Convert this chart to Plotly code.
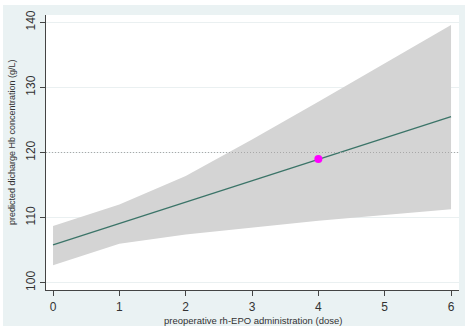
import plotly.graph_objects as go

# Predicted discharge Hb by number of preoperative rh-EPO doses, with 95% CI
doses = [0, 1, 2, 3, 4, 5, 6]
predicted = [105.8, 109.1, 112.4, 115.6, 118.9, 122.2, 125.5]
ci_lower = [102.7, 106.0, 107.4, 108.5, 109.5, 110.4, 111.3]
ci_upper = [108.7, 112.0, 116.4, 122.0, 127.8, 133.7, 139.6]

highlight_dose = [4]
highlight_hb = [119.0]

reference_hb = 120
y_ticks = [100, 110, 120, 130, 140]

outer_bg = "#eaf2f3"
band_color = "#d4d4d4"
line_color = "#3b7468"
text_color = "#333333"
font_family = "Liberation Sans, Arial, sans-serif"

fig = go.Figure()

fig.add_trace(go.Scatter(
    x=doses, y=ci_lower, mode="lines",
    line=dict(width=0, color=band_color), showlegend=False, hoverinfo="skip",
))
fig.add_trace(go.Scatter(
    x=doses, y=ci_upper, mode="lines", fill="tonexty", fillcolor=band_color,
    line=dict(width=0, color=band_color), showlegend=False, hoverinfo="skip",
))
fig.add_trace(go.Scatter(
    x=doses, y=predicted, mode="lines",
    line=dict(width=1.3, color=line_color), showlegend=False,
))
fig.add_trace(go.Scatter(
    x=highlight_dose, y=highlight_hb, mode="markers",
    marker=dict(size=8, color="#ff00ff"), showlegend=False,
))

# Dotted reference line at 120 g/L
fig.add_shape(type="line", xref="paper", x0=0, x1=1, yref="y",
              y0=reference_hb, y1=reference_hb,
              line=dict(color="#a8a8a8", width=1, dash="1px,2px"), layer="above")

# Thin white page border around the light graph region
L, R, T, B = 46, 11, 15, 44
W, H = 470, 334
pw, ph = W - L - R, H - T - B
def px(x):
    return (x - L) / pw
def py(y):
    return (H - B - y) / ph
for x0, y0, x1, y1 in [(0, 0, 3, H), (465, 0, W, H), (0, 0, W, 5), (0, 326, W, H)]:
    fig.add_shape(type="rect", xref="paper", yref="paper",
                  x0=px(x0), x1=px(x1), y0=py(y1), y1=py(y0),
                  fillcolor="white", line=dict(width=0), layer="above")

fig.add_annotation(text="preoperative rh-EPO administration (dose)",
                   xref="paper", yref="paper", x=px(252.5), y=py(320),
                   xanchor="center", yanchor="middle",
                   showarrow=False, font=dict(size=9.5, color=text_color, family=font_family))
fig.add_annotation(text="predicted dicharge Hb concentration (g/L)",
                   xref="paper", yref="paper", x=px(12), y=py(142),
                   xanchor="center", yanchor="middle",
                   textangle=-90, showarrow=False,
                   font=dict(size=9, color=text_color, family=font_family))

fig.update_layout(
    width=W, height=H,
    margin=dict(l=L, r=R, t=T, b=B),
    paper_bgcolor=outer_bg, plot_bgcolor="white",
    font=dict(family=font_family, color=text_color),
)
fig.update_xaxes(
    range=[-0.106, 6.12], tickvals=doses, ticks="outside", ticklen=5,
    tickcolor="#444444", showline=True, linecolor="#444444", linewidth=1,
    showgrid=False, zeroline=False, tickfont=dict(size=12, color=text_color),
    ticklabelstandoff=1,
)
fig.update_yaxes(
    range=[98.88, 141.12], tickvals=y_ticks, ticks="outside", ticklen=5,
    tickcolor="#444444", showline=True, linecolor="#444444", linewidth=1,
    showgrid=True, gridcolor="#eaf0f1", gridwidth=1, zeroline=False,
    tickangle=-90, tickfont=dict(size=12, color=text_color),
)

fig.write_html("out.html")
